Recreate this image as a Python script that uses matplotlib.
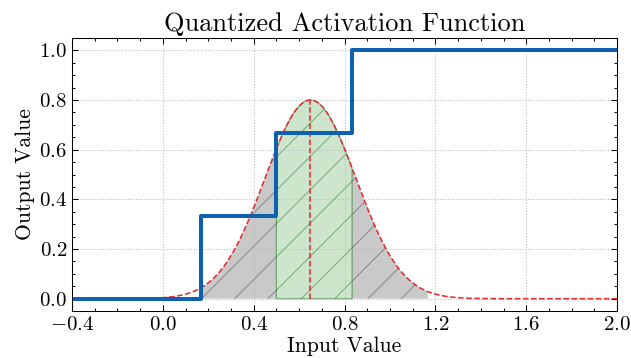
import numpy as np
import matplotlib
matplotlib.use('Agg')
import matplotlib.pyplot as plt
from matplotlib.ticker import AutoMinorLocator

plt.rcParams['font.family'] = 'serif'
plt.rcParams['font.serif'] = ['cmr10']
plt.rcParams['mathtext.fontset'] = 'cm'
plt.rcParams['axes.formatter.use_mathtext'] = True
plt.rcParams['hatch.linewidth'] = 0.7

# quantized step function
step_x = [-0.4, 1/6, 0.5, 5/6, 2.0]
step_y = [0.0, 1/3, 2/3, 1.0, 1.0]

# gaussian input distribution
mu = 0.65
sigma = 0.2
peak = 0.8

# shaded ranges
grey_ranges = [(1/6, 0.5), (5/6, 7/6)]
green_range = (0.5, 5/6)

def gauss(x):
    return peak * np.exp(-(x - mu) ** 2 / (2 * sigma ** 2))

fig = plt.figure(figsize=(6.31, 3.58), dpi=100)
ax = fig.add_axes([0.114, 0.131, 0.864, 0.763])

x = np.linspace(-0.4, 2.0, 1000)

for a, b in grey_ranges:
    xs = np.linspace(a, b, 200)
    ax.fill_between(xs, 0, gauss(xs), facecolor=(0.5, 0.5, 0.5, 0.42),
                    edgecolor=(0.3, 0.3, 0.3, 0.55), linewidth=0, hatch='/')

xs = np.linspace(green_range[0], green_range[1], 200)
ax.fill_between(xs, 0, gauss(xs), facecolor=(0, 0.5, 0, 0.2),
                edgecolor=(0, 0.4, 0, 0.45), linewidth=0.9, hatch='/')

ax.plot(x, gauss(x), color='#e8262a', linestyle='--', linewidth=1.1)
ax.vlines(mu, 0, peak, color='#e8262a', linestyle='--', linewidth=1.1)

ax.step(step_x, step_y, where='post', color='#1060b0', linewidth=2.9)

ax.set_xlim(-0.4, 2.0)
ax.set_ylim(-0.05, 1.05)
ax.set_xticks([-0.4, 0.0, 0.4, 0.8, 1.2, 1.6, 2.0])
ax.set_yticks([0.0, 0.2, 0.4, 0.6, 0.8, 1.0])
ax.xaxis.set_minor_locator(AutoMinorLocator())
ax.yaxis.set_minor_locator(AutoMinorLocator())
ax.tick_params(which='both', direction='in', top=True, right=True, labelsize=15)
ax.tick_params(which='major', length=4.5, width=0.75)
ax.tick_params(which='minor', length=2.2, width=0.75)
for s in ax.spines.values():
    s.set_linewidth(0.75)
ax.grid(True, linestyle=':', color='#bbbbbb', linewidth=0.75)

ax.set_title('Quantized Activation Function', fontsize=19, pad=5)
ax.set_xlabel('Input Value', fontsize=15.5, labelpad=2)
ax.set_ylabel('Output Value', fontsize=15.5, labelpad=3)

fig.savefig('out.png', dpi=100)
